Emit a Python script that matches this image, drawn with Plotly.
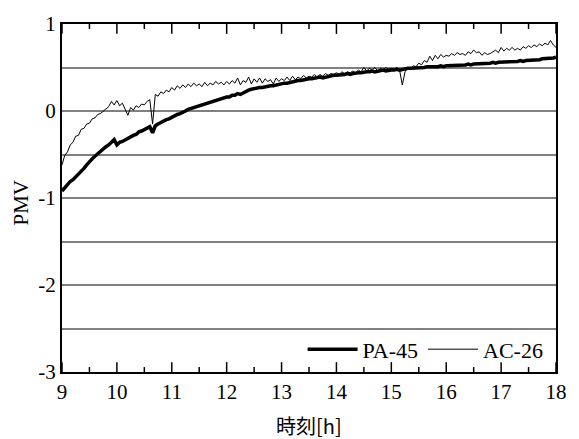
import plotly.graph_objects as go

# Time step 0.05 h from 9:00 to 18:00
t_start = 9.0
t_step = 0.05

pa45 = [
    -0.92, -0.88, -0.85, -0.81, -0.79, -0.76, -0.73, -0.70, -0.66, -0.62,
    -0.58, -0.55, -0.52, -0.49, -0.46, -0.44, -0.41, -0.39, -0.36, -0.33,
    -0.39, -0.36, -0.35, -0.33, -0.32, -0.30, -0.28, -0.27, -0.24, -0.23,
    -0.21, -0.20, -0.18, -0.25, -0.17, -0.15, -0.13, -0.12, -0.10, -0.09,
    -0.07, -0.06, -0.04, -0.03, -0.02, 0.00, 0.02, 0.03, 0.05, 0.06,
    0.07, 0.08, 0.09, 0.10, 0.11, 0.11, 0.13, 0.13, 0.14, 0.15,
    0.16, 0.16, 0.18, 0.18, 0.20, 0.19, 0.21, 0.22, 0.24, 0.25,
    0.26, 0.26, 0.27, 0.27, 0.28, 0.28, 0.29, 0.29, 0.30, 0.30,
    0.31, 0.32, 0.32, 0.33, 0.34, 0.34, 0.35, 0.35, 0.36, 0.36,
    0.37, 0.37, 0.38, 0.38, 0.39, 0.38, 0.39, 0.40, 0.40, 0.41,
    0.41, 0.41, 0.42, 0.42, 0.43, 0.42, 0.43, 0.44, 0.44, 0.44,
    0.45, 0.45, 0.45, 0.46, 0.45, 0.46, 0.46, 0.47, 0.46, 0.47,
    0.47, 0.47, 0.48, 0.47, 0.48, 0.48, 0.49, 0.49, 0.49, 0.50,
    0.50, 0.50, 0.50, 0.51, 0.51, 0.50, 0.51, 0.51, 0.52, 0.51,
    0.52, 0.52, 0.52, 0.53, 0.52, 0.53, 0.53, 0.53, 0.54, 0.53,
    0.54, 0.54, 0.54, 0.55, 0.54, 0.55, 0.55, 0.56, 0.55, 0.56,
    0.56, 0.56, 0.57, 0.56, 0.57, 0.57, 0.57, 0.58, 0.57, 0.58,
    0.58, 0.59, 0.58, 0.59, 0.59, 0.60, 0.60, 0.60, 0.61, 0.61,
    0.62,
]

ac26 = [
    -0.62, -0.51, -0.47, -0.39, -0.36, -0.29, -0.28, -0.21, -0.20, -0.15,
    -0.14, -0.09, -0.08, -0.04, -0.03, 0.00, 0.02, 0.05, 0.11, 0.07,
    0.12, 0.06, 0.09, 0.02, -0.05, 0.04, 0.01, 0.06, 0.04, 0.08,
    0.07, 0.11, 0.13, -0.15, 0.19, 0.17, 0.22, 0.20, 0.24, 0.22,
    0.27, 0.24, 0.29, 0.26, 0.30, 0.27, 0.31, 0.28, 0.32, 0.29,
    0.31, 0.28, 0.33, 0.29, 0.32, 0.30, 0.34, 0.31, 0.33, 0.30,
    0.34, 0.31, 0.35, 0.32, 0.38, 0.30, 0.35, 0.33, 0.39, 0.31,
    0.37, 0.33, 0.38, 0.32, 0.37, 0.34, 0.36, 0.31, 0.38, 0.34,
    0.37, 0.35, 0.39, 0.35, 0.40, 0.36, 0.39, 0.37, 0.41, 0.38,
    0.40, 0.39, 0.42, 0.39, 0.42, 0.40, 0.43, 0.41, 0.43, 0.42,
    0.44, 0.42, 0.45, 0.43, 0.45, 0.44, 0.46, 0.44, 0.47, 0.45,
    0.50, 0.46, 0.49, 0.47, 0.50, 0.46, 0.49, 0.47, 0.50, 0.48,
    0.49, 0.48, 0.50, 0.47, 0.30, 0.45, 0.50, 0.49, 0.52, 0.51,
    0.55, 0.53, 0.58, 0.56, 0.63, 0.58, 0.64, 0.60, 0.65, 0.62,
    0.64, 0.63, 0.66, 0.64, 0.67, 0.65, 0.66, 0.64, 0.68, 0.66,
    0.70, 0.67, 0.68, 0.64, 0.67, 0.65, 0.66, 0.68, 0.70, 0.67,
    0.73, 0.69, 0.72, 0.70, 0.73, 0.70, 0.72, 0.70, 0.74, 0.72,
    0.75, 0.73, 0.76, 0.74, 0.77, 0.75, 0.78, 0.76, 0.81, 0.76,
    0.73,
]

x_ticks = [9, 10, 11, 12, 13, 14, 15, 16, 17, 18]
x_labels = ["9", "10", "11", "12", "13", "14", "15", "16", "17", "18"]
x_minor = [9.5, 10.5, 11.5, 12.5, 13.5, 14.5, 15.5, 16.5, 17.5]
# y grid every 0.5, labels only on integers
y_ticks = [-3, -2.5, -2, -1.5, -1, -0.5, 0, 0.5, 1]
y_labels = ["-3", "", "-2", "", "-1", "", "0", "", "1"]

t_pa = [round(t_start + t_step * i, 2) for i in range(len(pa45))]
t_ac = [round(t_start + t_step * i, 2) for i in range(len(ac26))]

FONT = "Liberation Serif"
CJK_FONT = "Noto Sans CJK JP"

W, H = 579, 439
M_L, M_R, M_T, M_B = 62, 15, 19, 67
PLOT_H = H - M_T - M_B
MAJOR_LEN = 10 / PLOT_H   # tick lengths as a fraction of the plot height
MINOR_LEN = 5 / PLOT_H

fig = go.Figure()
fig.add_trace(go.Scatter(x=t_pa, y=pa45, mode="lines", name="PA-45",
                         line=dict(color="black", width=3.5)))
fig.add_trace(go.Scatter(x=t_ac, y=ac26, mode="lines", name="AC-26",
                         line=dict(color="black", width=1)))

# inward tick marks on the bottom and top edges, placed on the x scale
tick_shapes = []
for v, ln in [(v, MAJOR_LEN) for v in x_ticks] + [(v, MINOR_LEN) for v in x_minor]:
    for y0, y1 in [(0, ln), (1, 1 - ln)]:
        tick_shapes.append(dict(type="line", xref="x", yref="paper", x0=v, x1=v,
                                y0=y0, y1=y1, layer="above",
                                line=dict(color="black", width=1.5)))

fig.update_layout(
    width=W, height=H,
    margin=dict(l=M_L, r=M_R, t=M_T, b=M_B),
    paper_bgcolor="white", plot_bgcolor="white",
    font=dict(family=FONT, color="black"),
    showlegend=True,
    legend=dict(orientation="h", x=0.985, xanchor="right", y=0.065, yanchor="middle",
                bgcolor="rgba(0,0,0,0)", font=dict(family=FONT, size=22), itemwidth=50,
                tracegroupgap=0),
    xaxis=dict(range=[9, 18], tickmode="array", tickvals=x_ticks, ticktext=x_labels,
               ticks="", showline=True, linecolor="black", linewidth=2, mirror=True,
               showgrid=False, zeroline=False,
               tickfont=dict(family=FONT, size=21, color="black")),
    yaxis=dict(range=[-3, 1], tickmode="array", tickvals=y_ticks, ticktext=y_labels,
               showline=True, linecolor="black", linewidth=2, mirror=True,
               showgrid=True, gridcolor="#808080", gridwidth=1.5,
               zeroline=False,
               tickfont=dict(family=FONT, size=21, color="black")),
    shapes=tick_shapes,
    annotations=[
        dict(text="PMV", xref="paper", yref="paper", x=-0.083, y=0.487,
             textangle=-90, showarrow=False, xanchor="center", yanchor="middle",
             font=dict(family=FONT, size=21, color="black")),
        dict(text="時刻[h]", xref="paper", yref="paper", x=0.5, y=-0.155,
             showarrow=False, xanchor="center", yanchor="middle",
             font=dict(family=CJK_FONT, size=20, color="black")),
    ],
)

fig.write_html("out.html")
